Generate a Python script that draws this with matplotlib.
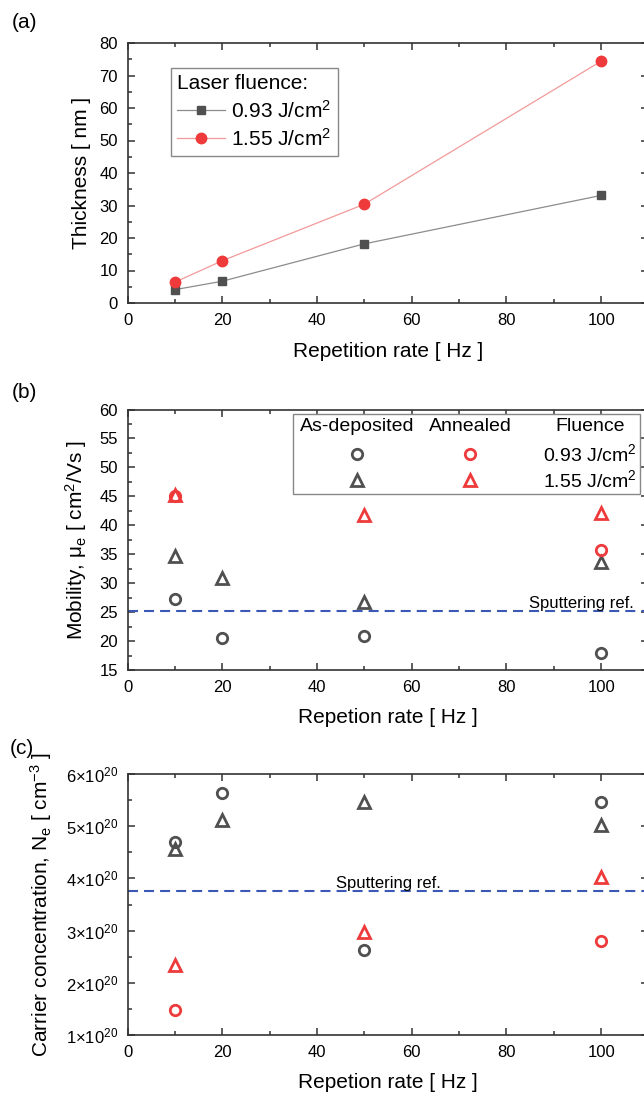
import matplotlib
matplotlib.use('Agg')
import matplotlib.pyplot as plt
from matplotlib.ticker import MultipleLocator, FuncFormatter
from matplotlib.patches import Rectangle

plt.rcParams['font.family'] = 'Liberation Sans'
plt.rcParams['mathtext.fontset'] = 'custom'
plt.rcParams['mathtext.rm'] = 'Liberation Sans'
plt.rcParams['mathtext.it'] = 'Liberation Sans:italic'
plt.rcParams['mathtext.bf'] = 'Liberation Sans:bold'

# data
rate = [10, 20, 50, 100]

thick_093 = [4.1, 6.7, 18.2, 33.1]
thick_155 = [6.4, 13.0, 30.4, 74.4]

mob_dep_093 = [27.3, 20.5, 20.8, 17.9]
mob_dep_155 = [34.7, 30.9, 26.8, 33.6]
mob_ann_rate_093 = [10, 100]
mob_ann_093 = [45.0, 35.8]
mob_ann_rate_155 = [10, 50, 100]
mob_ann_155 = [45.3, 41.8, 42.2]
mob_sputter = 25.2

conc_dep_093 = [4.70e20, 5.63e20, 2.63e20, 5.46e20]
conc_dep_155 = [4.56e20, 5.11e20, 5.47e20, 5.02e20]
conc_ann_rate_093 = [10, 100]
conc_ann_093 = [1.48e20, 2.81e20]
conc_ann_rate_155 = [10, 50, 100]
conc_ann_155 = [2.35e20, 2.98e20, 4.02e20]
conc_sputter = 3.75e20

fluences = ['0.93 J/cm$^2$', '1.55 J/cm$^2$']

gray = '#505050'
red = '#ee3a3a'
blue = '#3a58b4'
spine_col = '#333333'

fig = plt.figure(figsize=(6.44, 10.98), dpi=100)
W, H = 644, 1098
left = 127.5 / W
width = 521 / W
ax_a = fig.add_axes([left, 1 - 303 / H, width, 260 / H])
ax_b = fig.add_axes([left, 1 - 670 / H, width, 260.5 / H])
ax_c = fig.add_axes([left, 1 - 1035 / H, width, 261 / H])


def style(ax):
    ax.set_xlim(0, 110)
    ax.xaxis.set_major_locator(MultipleLocator(20))
    ax.xaxis.set_minor_locator(MultipleLocator(10))
    ax.tick_params(which='both', direction='in', top=True, right=True,
                   labelsize=12, pad=7, color=spine_col, width=1.1)
    ax.tick_params(which='major', length=5)
    ax.tick_params(which='minor', length=3)
    for s in ax.spines.values():
        s.set_linewidth(1.2)
        s.set_color(spine_col)


# (a) thickness
ax_a.plot(rate, thick_093, '-s', color='#8c8c8c', lw=0.9, ms=6,
          mfc=gray, mec=gray, label=fluences[0])
ax_a.plot(rate, thick_155, '-o', color='#f29a9a', lw=0.9, ms=7.5,
          mfc=red, mec=red, label=fluences[1])
style(ax_a)
ax_a.set_ylim(0, 80)
ax_a.yaxis.set_major_locator(MultipleLocator(10))
ax_a.yaxis.set_minor_locator(MultipleLocator(5))
ax_a.set_xlabel('Repetition rate [ Hz ]', fontsize=15)
ax_a.set_ylabel('Thickness [ nm ]', fontsize=15)
ax_a.xaxis.set_label_coords(0.5, -0.150)
ax_a.yaxis.set_label_coords(-0.070, 0.5)
leg = ax_a.legend(title='Laser fluence:', loc='upper left',
                  bbox_to_anchor=(0.0835, 0.904), borderaxespad=0,
                  fontsize=15, title_fontsize=15, alignment='left',
                  fancybox=False, edgecolor='#888888', framealpha=1,
                  handlelength=2.3, handletextpad=0.3, borderpad=0.3,
                  labelspacing=0.3)
leg.get_frame().set_linewidth(1.0)

# (b) mobility
mk = dict(ls='none', mfc='none', mew=2)
ax_b.plot(rate, mob_dep_093, marker='o', ms=7.5, mec=gray, **mk)
ax_b.plot(rate, mob_dep_155, marker='^', ms=9, mec=gray, **mk)
ax_b.plot(mob_ann_rate_093, mob_ann_093, marker='o', ms=7.5, mec=red, **mk)
ax_b.plot(mob_ann_rate_155, mob_ann_155, marker='^', ms=9, mec=red, **mk)
ax_b.axhline(mob_sputter, color=blue, lw=1.5, ls=(0, (4.8, 2.9)))
ax_b.text(106.8, mob_sputter + 0.55, 'Sputtering ref.', ha='right',
          va='baseline', fontsize=12)
style(ax_b)
ax_b.set_ylim(15, 60)
ax_b.yaxis.set_major_locator(MultipleLocator(5))
ax_b.yaxis.set_minor_locator(MultipleLocator(2.5))
ax_b.set_xlabel('Repetion rate [ Hz ]', fontsize=15)
ax_b.set_ylabel('Mobility, μ$_\\mathrm{e}$ [ cm$^2$/Vs ]', fontsize=15)
ax_b.xaxis.set_label_coords(0.5, -0.146)
ax_b.yaxis.set_label_coords(-0.074, 0.5)

# manual legend for (b)
tr = ax_b.transAxes
ax_b.add_patch(Rectangle((0.318, 0.676), 0.666, 0.307, transform=tr,
                         facecolor='white', edgecolor='#888888', lw=1.0,
                         zorder=5))
col_x = [0.4405, 0.6574, 0.888]
row_y = [0.933, 0.829, 0.729]
for x, t in zip(col_x, ['As-deposited', 'Annealed', 'Fluence']):
    ax_b.text(x, row_y[0], t, transform=tr, ha='center', va='center',
              fontsize=14, zorder=6)
for y, m in zip(row_y[1:], ['o', '^']):
    ms = 7.5 if m == 'o' else 9
    ax_b.plot([col_x[0]], [y], marker=m, ms=ms, mec=gray, transform=tr,
              zorder=6, **mk)
    ax_b.plot([col_x[1]], [y], marker=m, ms=ms, mec=red, transform=tr,
              zorder=6, **mk)
for y, t in zip(row_y[1:], fluences):
    ax_b.text(col_x[2], y, t, transform=tr, ha='center', va='center',
              fontsize=14, zorder=6)

# (c) carrier concentration
ax_c.plot(rate, conc_dep_093, marker='o', ms=7.5, mec=gray, **mk)
ax_c.plot(rate, conc_dep_155, marker='^', ms=9, mec=gray, **mk)
ax_c.plot(conc_ann_rate_093, conc_ann_093, marker='o', ms=7.5, mec=red, **mk)
ax_c.plot(conc_ann_rate_155, conc_ann_155, marker='^', ms=9, mec=red, **mk)
ax_c.axhline(conc_sputter, color=blue, lw=1.5, ls=(0, (4.8, 2.9)))
ax_c.text(55, conc_sputter + 0.06e20, 'Sputtering ref.', ha='center',
          va='baseline', fontsize=12)
style(ax_c)
ax_c.set_ylim(1e20, 6e20)
ax_c.yaxis.set_major_locator(MultipleLocator(1e20))
ax_c.yaxis.set_minor_locator(MultipleLocator(0.5e20))
ax_c.yaxis.set_major_formatter(
    FuncFormatter(lambda v, p: '$%d{\\times}10^{20}$' % round(v / 1e20)))
ax_c.set_xlabel('Repetion rate [ Hz ]', fontsize=15)
ax_c.set_ylabel('Carrier concentration, N$_\\mathrm{e}$ [ cm$^{\\mathrm{-3}}$ ]',
                fontsize=15)
ax_c.xaxis.set_label_coords(0.5, -0.146)
ax_c.yaxis.set_label_coords(-0.141, 0.5)

# panel letters
fig.text(12 / W, 1 - 22 / H, '(a)', fontsize=15, va='center')
fig.text(12 / W, 1 - 392 / H, '(b)', fontsize=15, va='center')
fig.text(10 / W, 1 - 749 / H, '(c)', fontsize=15, va='center')

fig.savefig('out.png', dpi=100)
